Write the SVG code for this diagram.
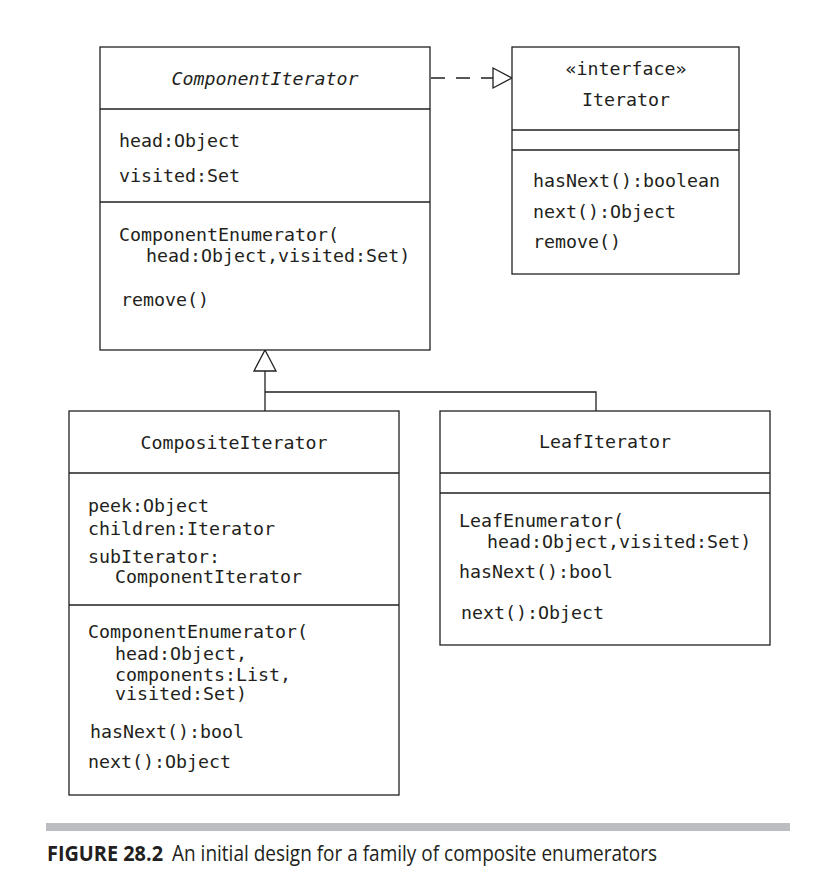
<svg xmlns="http://www.w3.org/2000/svg" width="821" height="875" viewBox="0 0 821 875">
<style>
.box{fill:#fff;stroke:#231f20;stroke-width:1.3}
.ln{fill:none;stroke:#231f20;stroke-width:1.3}
.t{font-family:"DejaVu Sans Mono","Liberation Mono",monospace;font-size:18.3px;fill:#231f20}
.c{text-anchor:middle}
.i{font-style:italic}
.cap{font-family:"Open Sans","Liberation Sans",sans-serif;font-size:21px;fill:#231f20}
</style>
<rect width="821" height="875" fill="#fff"/>

<g id="connectors">
  <line class="ln" x1="431" y1="78" x2="493" y2="78" stroke-dasharray="14 11"/>
  <polygon class="box" points="493,68 512,78 493,88"/>
  <line class="ln" x1="265" y1="371" x2="265" y2="411"/>
  <polyline class="ln" points="265,392 596,392 596,411"/>
  <polygon class="box" points="265,350 276,371 254,371"/>
</g>

<g id="ComponentIterator">
  <rect class="box" x="100" y="47" width="330" height="303"/>
  <line class="ln" x1="100" y1="109" x2="430" y2="109"/>
  <line class="ln" x1="100" y1="202" x2="430" y2="202"/>
  <text class="t c i" x="265" y="85">ComponentIterator</text>
  <text class="t" x="119" y="147">head:Object</text>
  <text class="t" x="119" y="182">visited:Set</text>
  <text class="t" x="119" y="241">ComponentEnumerator(</text>
  <text class="t" x="146" y="262">head:Object,visited:Set)</text>
  <text class="t" x="121" y="306">remove()</text>
</g>

<g id="Iterator">
  <rect class="box" x="512" y="47" width="227" height="227"/>
  <line class="ln" x1="512" y1="130" x2="739" y2="130"/>
  <line class="ln" x1="512" y1="150" x2="739" y2="150"/>
  <text class="t c" x="626" y="75">«interface»</text>
  <text class="t c" x="626" y="106">Iterator</text>
  <text class="t" x="533" y="187">hasNext():boolean</text>
  <text class="t" x="533" y="218">next():Object</text>
  <text class="t" x="533" y="248">remove()</text>
</g>

<g id="CompositeIterator">
  <rect class="box" x="69" y="411" width="330" height="384"/>
  <line class="ln" x1="69" y1="473" x2="399" y2="473"/>
  <line class="ln" x1="69" y1="605" x2="399" y2="605"/>
  <text class="t c" x="234" y="449">CompositeIterator</text>
  <text class="t" x="88" y="512">peek:Object</text>
  <text class="t" x="88" y="535">children:Iterator</text>
  <text class="t" x="88" y="563">subIterator:</text>
  <text class="t" x="115" y="583">ComponentIterator</text>
  <text class="t" x="88" y="638">ComponentEnumerator(</text>
  <text class="t" x="115" y="660">head:Object,</text>
  <text class="t" x="115" y="681">components:List,</text>
  <text class="t" x="115" y="700">visited:Set)</text>
  <text class="t" x="90" y="738">hasNext():bool</text>
  <text class="t" x="88" y="768">next():Object</text>
</g>

<g id="LeafIterator">
  <rect class="box" x="440" y="411" width="330" height="234"/>
  <line class="ln" x1="440" y1="473" x2="770" y2="473"/>
  <line class="ln" x1="440" y1="493" x2="770" y2="493"/>
  <text class="t c" x="605" y="448">LeafIterator</text>
  <text class="t" x="459" y="527">LeafEnumerator(</text>
  <text class="t" x="487" y="548">head:Object,visited:Set)</text>
  <text class="t" x="459" y="578">hasNext():bool</text>
  <text class="t" x="461" y="619">next():Object</text>
</g>

<rect x="46" y="823" width="744" height="8" fill="#bcbdc0"/>
<text class="cap" x="47" y="861" font-weight="bold" textLength="116" lengthAdjust="spacingAndGlyphs">FIGURE 28.2</text>
<text class="cap" x="172" y="861" textLength="485" lengthAdjust="spacingAndGlyphs">An initial design for a family of composite enumerators</text>
</svg>
